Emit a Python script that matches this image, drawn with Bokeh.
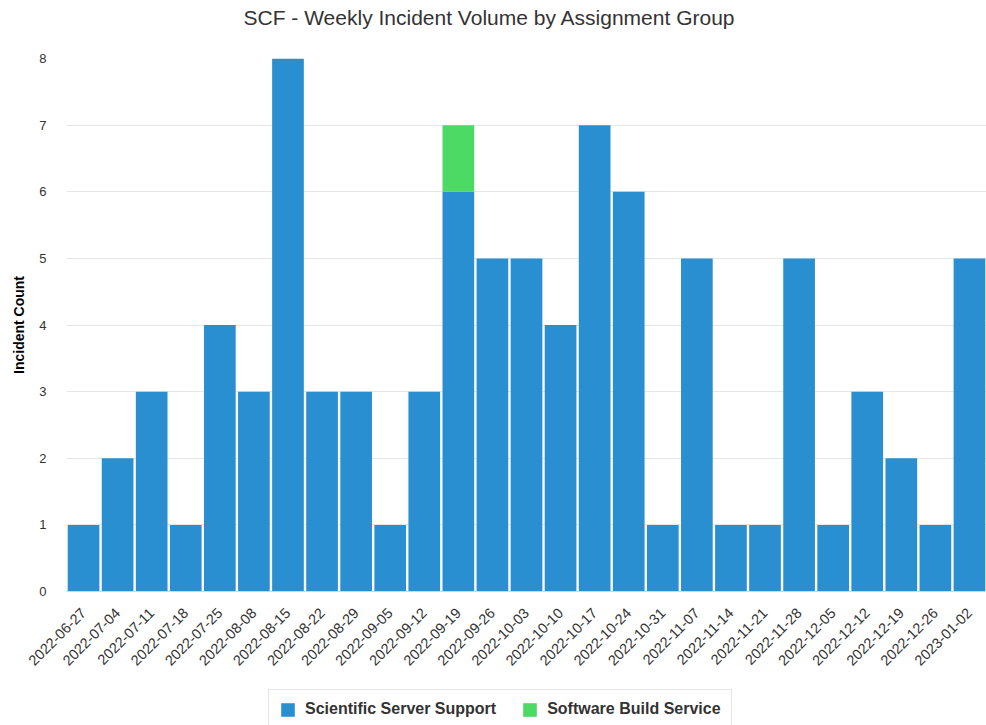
import math
from bokeh.plotting import figure
from bokeh.layouts import column
from bokeh.models import (ColumnDataSource, FactorRange, Range1d, Legend, LegendItem,
                          SingleIntervalTicker)
from bokeh.embed import file_html
from bokeh.resources import INLINE

weeks = ["2022-06-27", "2022-07-04", "2022-07-11", "2022-07-18", "2022-07-25",
         "2022-08-08", "2022-08-15", "2022-08-22", "2022-08-29", "2022-09-05",
         "2022-09-12", "2022-09-19", "2022-09-26", "2022-10-03", "2022-10-10",
         "2022-10-17", "2022-10-24", "2022-10-31", "2022-11-07", "2022-11-14",
         "2022-11-21", "2022-11-28", "2022-12-05", "2022-12-12", "2022-12-19",
         "2022-12-26", "2023-01-02"]
scientific_server_support = [1, 2, 3, 1, 4, 3, 8, 3, 3, 1, 3, 6, 5, 5, 4, 7, 6, 1,
                             5, 1, 1, 5, 1, 3, 2, 1, 5]
software_build_service = [0, 0, 0, 0, 0, 0, 0, 0, 0, 0, 0, 1, 0, 0, 0, 0, 0, 0,
                          0, 0, 0, 0, 0, 0, 0, 0, 0]
group_names = ["Scientific Server Support", "Software Build Service"]
group_colors = ["#2a8fd1", "#4cd964"]
y_max = 8
chart_title = "SCF - Weekly Incident Volume by Assignment Group"

FONT = "Liberation Sans"

src = ColumnDataSource(dict(week=weeks, sss=scientific_server_support,
                            sbs=software_build_service))

# title strip
tf = figure(width=986, height=40, output_backend="svg", toolbar_location=None,
            x_axis_location=None, y_axis_location=None, title=chart_title,
            min_border=0, outline_line_color=None)
tf.grid.visible = False
tf.title.align = "left"
tf.title.offset = 177
tf.title.text_font = FONT
tf.title.text_font_size = "21px"
tf.title.text_font_style = "normal"
tf.title.text_color = "#333333"
tf.title.standoff = 7

p = figure(x_range=FactorRange(*weeks), y_range=Range1d(0, y_max),
           width=986, height=640, output_backend="svg", toolbar_location=None,
           min_border_left=66, min_border_right=0, min_border_top=18,
           min_border_bottom=89)
p.outline_line_color = None
p.background_fill_color = "white"
p.border_fill_color = "white"

renderers = p.vbar_stack(["sss", "sbs"], x="week", width=0.93, color=group_colors,
                         line_color=None, source=src)

p.xgrid.grid_line_color = None
p.ygrid.grid_line_color = "#e6e6e6"
p.ygrid.grid_line_width = 1

xa = p.xaxis[0]
xa.axis_line_color = "#ccd6eb"
xa.major_tick_line_color = None
xa.minor_tick_line_color = None
xa.major_tick_out = 0
xa.minor_tick_out = 0
xa.major_label_orientation = math.pi / 4
xa.major_label_text_font = FONT
xa.major_label_text_font_size = "14.5px"
xa.major_label_text_color = "#333333"
xa.major_label_standoff = 19

ya = p.yaxis[0]
ya.ticker = SingleIntervalTicker(interval=1)
ya.axis_line_color = None
ya.major_tick_line_color = None
ya.minor_tick_line_color = None
ya.major_tick_out = 0
ya.minor_tick_out = 0
ya.major_label_text_font = FONT
ya.major_label_text_font_size = "13px"
ya.major_label_text_color = "#333333"
ya.major_label_standoff = 20
ya.axis_label = "Incident Count"
ya.axis_label_text_font = FONT
ya.axis_label_text_font_size = "14px"
ya.axis_label_text_font_style = "bold"
ya.axis_label_text_color = "#000000"
ya.axis_label_standoff = 9

# legend strip below the chart
lg = figure(width=986, height=45, output_backend="svg", toolbar_location=None,
            x_range=FactorRange(*weeks), y_range=Range1d(100, 101),
            x_axis_location=None, y_axis_location=None,
            min_border=0, outline_line_color=None)
lg.grid.visible = False
lg_renderers = lg.vbar_stack(["sss", "sbs"], x="week", width=0.93, color=group_colors,
                             line_color=None, source=src)
legend = Legend(items=[LegendItem(label=n, renderers=[r]) for n, r in zip(group_names, lg_renderers)],
                orientation="horizontal", location=(202, -4))
legend.label_text_font = FONT
legend.label_text_font_size = "16px"
legend.label_text_font_style = "bold"
legend.label_text_color = "#333333"
legend.border_line_color = "#cccccc"
legend.border_line_width = 1
legend.glyph_width = 17
legend.glyph_height = 17
legend.label_height = 17
legend.spacing = 25
legend.padding = 10
legend.margin = 0
legend.label_standoff = 9
lg.add_layout(legend, "center")

layout = column(tf, p, lg, spacing=0)

open("out.html", "w").write(file_html(layout, INLINE))
